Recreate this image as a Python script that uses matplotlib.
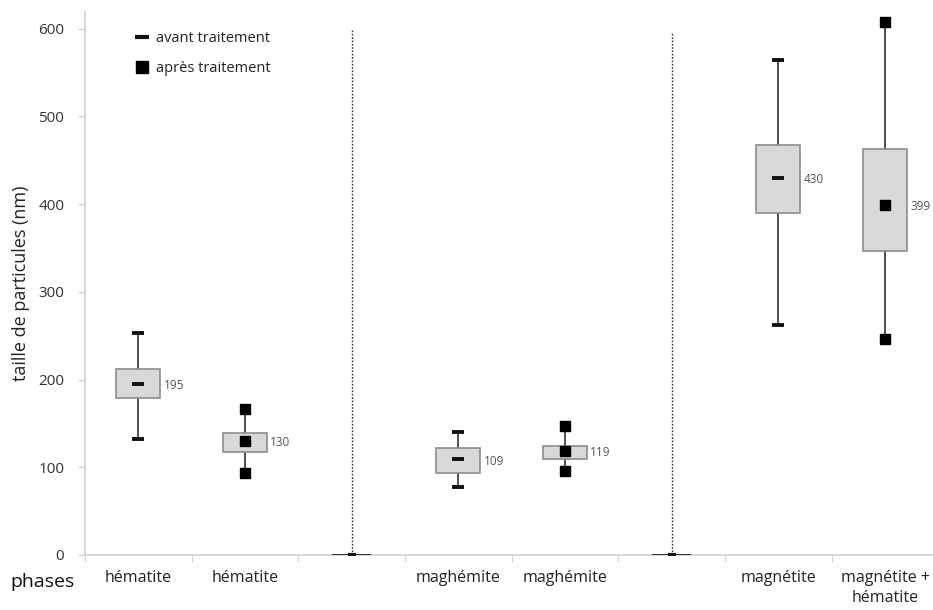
import matplotlib
matplotlib.use("Agg")
import matplotlib.pyplot as plt
from matplotlib.lines import Line2D
from matplotlib.patches import Rectangle

plt.rcParams['font.family'] = ['Open Sans', 'DejaVu Sans']

categories = ["hématite", "hématite", "", "maghémite", "maghémite", "", "magnétite", "magnétite +\nhématite"]
# per box: position index, whisker low, q1, median, q3, whisker high, kind
positions = [0, 1, 3, 4, 6, 7]
whisk_low = [132, 93, 78, 96, 262, 246]
q1 = [179, 117, 94, 110, 390, 347]
median = [195, 130, 109, 119, 430, 399]
q3 = [212, 139, 122, 124, 467, 463]
whisk_high = [253, 167, 140, 147, 564, 608]
kind = ["avant", "après", "avant", "après", "avant", "après"]
median_labels = ["195", "130", "109", "119", "430", "399"]
separators = [2, 5]
separator_top = [600, 595]
yticks = [0, 100, 200, 300, 400, 500, 600]

fig = plt.figure(figsize=(9.33, 6.10), dpi=100)
ax = fig.add_axes([85/933, 55/610, 1 - 85/933, (555-12)/610])
ax.set_xlim(-0.5, 7.45)
ax.set_ylim(0, 619)

bw = 0.41
for p, lo, a, m, b, hi, k, lab in zip(positions, whisk_low, q1, median, q3, whisk_high, kind, median_labels):
    ax.vlines(p, lo, a, color='#404040', lw=1.3, zorder=2)
    ax.vlines(p, b, hi, color='#404040', lw=1.3, zorder=2)
    ax.add_patch(Rectangle((p - bw/2, a), bw, b - a, facecolor='#d9d9d9', edgecolor='#8c8c8c', lw=1.2, zorder=3))
    if k == "avant":
        ax.plot([p, p], [lo, hi], ls='none', marker='_', ms=8, mew=2.8, color='#111111', zorder=4)
        ax.plot([p], [m], ls='none', marker='_', ms=8, mew=2.8, color='#111111', zorder=4)
    else:
        ax.plot([p, p], [lo, hi], ls='none', marker='s', ms=6.5, color='#000000', zorder=4)
        ax.plot([p], [m], ls='none', marker='s', ms=6.5, color='#000000', zorder=4)
    ax.text(p + bw/2 + 0.03, m - 2, lab, fontsize=8.5, color='#555555', va='center', ha='left', zorder=5)

for s, top in zip(separators, separator_top):
    ax.vlines(s, 0, top, color='#333333', lw=1.0, linestyles=(0, (1.2, 1.2)), zorder=2)
    ax.hlines(0, s - 0.18, s + 0.18, color='#222222', lw=1.3, zorder=4)
    ax.plot([s], [0], marker='_', ms=6, mew=3, color='#111111', zorder=5)

# axes styling
for sp in ['top', 'right']:
    ax.spines[sp].set_visible(False)
for sp in ['left', 'bottom']:
    ax.spines[sp].set_color('#d0d0d0')
    ax.spines[sp].set_linewidth(1.2)

ax.set_yticks(yticks)
ax.set_yticklabels([str(v) for v in yticks], fontsize=11, color='#333333')
ax.tick_params(axis='y', length=5, color='#c8c8c8', pad=10)

ax.set_xticks(range(len(categories)))
ax.set_xticklabels(categories, fontsize=11.5, color='#222222', linespacing=1.3)
ax.tick_params(axis='x', which='major', length=0, pad=11)
ax.set_xticks([i + 0.5 for i in range(-1, len(categories) - 1)], minor=True)
ax.tick_params(axis='x', which='minor', length=5, color='#c8c8c8')

ax.set_ylabel("taille de particules (nm)", fontsize=13, color='#222222', labelpad=6)
fig.text(10/933, 1 - 582/610, "phases", fontsize=14, color='#111111', ha='left', va='center')

handles = [
    Line2D([], [], ls='none', marker='_', ms=10, mew=3, color='#111111'),
    Line2D([], [], ls='none', marker='s', ms=9, color='#000000'),
]
ax.legend(handles, ["avant traitement", "après traitement"], loc='upper left',
          bbox_to_anchor=(35/848, 1 - 6/543), frameon=False, fontsize=10.5,
          labelspacing=1.0, handletextpad=0.4, handlelength=1.2, labelcolor='#222222')

fig.savefig("out.png", dpi=100)
